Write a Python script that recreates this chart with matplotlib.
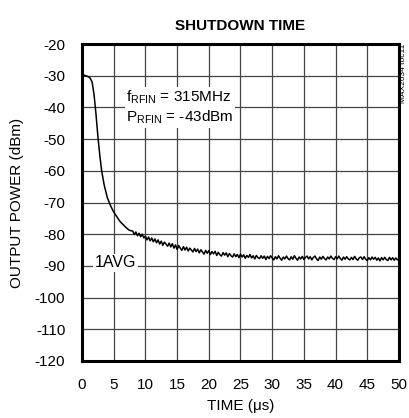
import numpy as np
import matplotlib
matplotlib.use("Agg")
import matplotlib.pyplot as plt

plt.rcParams['font.family'] = ['Liberation Sans', 'DejaVu Sans']
plt.rcParams['axes.unicode_minus'] = False

# fast drop right after shutdown
t_drop = [0.0, 0.3, 0.6, 1.0, 1.3, 1.6, 1.9, 2.2, 2.5, 2.8, 3.1, 3.5, 4.0,
          4.5, 5.0, 5.5, 6.0, 6.5, 7.0, 7.5]
p_drop = [-29.5, -29.8, -30.0, -30.3, -30.8, -32.0, -36.0, -42.0, -49.0, -55.0,
          -60.0, -64.5, -68.5, -71.0, -73.0, -74.5, -76.0, -77.0, -78.0, -78.8]

# noisy tail, sampled every 0.25us from 8us to 50us
t_tail = np.arange(8.0, 50.01, 0.25)
p_tail = [
    -79.0, -80.1, -79.3, -80.5, -79.7, -80.8, -80.0, -81.2,
    -80.6, -81.8, -80.9, -82.1, -81.2, -82.4, -81.5, -82.7,
    -81.8, -83.1, -82.2, -83.5, -82.5, -83.1, -83.8, -82.8,
    -84.0, -83.0, -84.4, -83.4, -84.8, -83.6, -84.4, -85.1,
    -83.9, -85.0, -84.1, -85.3, -84.4, -85.0, -85.6, -84.5,
    -85.5, -84.7, -85.9, -84.9, -85.6, -86.3, -85.1, -86.0,
    -85.2, -86.4, -85.5, -86.2, -85.4, -86.7, -85.7, -86.5,
    -86.9, -85.8, -86.6, -85.9, -87.1, -86.1, -86.8, -87.2,
    -86.2, -87.1, -86.4, -87.4, -86.3, -87.2, -86.5, -87.6,
    -86.7, -87.3, -86.4, -87.5, -86.8, -87.8, -86.7, -87.4,
    -87.7, -86.8, -87.6, -86.9, -88.0, -87.0, -87.7, -86.8,
    -87.5, -88.1, -87.1, -87.8, -86.8, -87.6, -88.2, -87.2,
    -87.8, -86.9, -87.7, -88.1, -87.1, -87.9, -86.8, -87.6,
    -88.2, -87.2, -87.8, -87.0, -88.0, -87.3, -86.9, -87.8,
    -87.1, -88.1, -87.3, -86.9, -87.8, -88.3, -87.2, -87.9,
    -87.0, -87.7, -88.1, -87.2, -87.8, -86.9, -87.6, -88.0,
    -87.1, -87.8, -86.9, -87.7, -88.2, -87.2, -87.9, -87.1,
    -87.8, -88.1, -87.3, -88.0, -87.0, -87.8, -88.2, -87.4,
    -87.2, -88.0, -87.1, -87.9, -88.3, -87.4, -88.1, -87.2,
    -87.9, -87.3, -88.2, -87.5, -88.4, -87.4, -88.1, -87.3,
    -88.0, -88.3, -87.3, -88.1, -87.4, -88.2, -87.5, -88.1,
    -87.7]

x_ticks = [0, 5, 10, 15, 20, 25, 30, 35, 40, 45, 50]
y_ticks = [-120, -110, -100, -90, -80, -70, -60, -50, -40, -30, -20]

t = np.concatenate([t_drop, t_tail])
p = np.concatenate([p_drop, p_tail])

fig = plt.figure(figsize=(4.09, 4.18), dpi=100)
ax = fig.add_axes([0.2005, 0.1364, 0.7750, 0.7583])

ax.plot(t, p, color='black', lw=1.1)

ax.set_xlim(0, 50)
ax.set_ylim(-120, -20)
ax.set_xticks(x_ticks)
ax.set_yticks(y_ticks)
ax.grid(True, color='#444444', lw=0.9)
ax.set_axisbelow(True)
ax.tick_params(length=0, pad=12, labelsize=11)
for s in ax.spines.values():
    s.set_linewidth(2.2)

ax.set_xlabel('TIME (μs)', fontsize=11, labelpad=5)
ax.set_ylabel('OUTPUT POWER (dBm)', fontsize=11, labelpad=8)
ax.set_title('SHUTDOWN TIME', fontsize=11, fontweight='bold', pad=10)

ax.text(7.0, -40, '$\\mathregular{f_{RFIN}}$ = 315MHz\n$\\mathregular{P_{RFIN}}$ = -43dBm',
        fontsize=11, va='center', ha='left', linespacing=1.25,
        bbox=dict(facecolor='white', edgecolor='none', pad=1))
ax.text(2.0, -89, '1AVG', fontsize=11.5, va='center', ha='left',
        bbox=dict(facecolor='white', edgecolor='none', pad=1))

fig.text(0.995, 0.895, 'MAX2634 toc11', fontsize=6, rotation=90,
         ha='right', va='top')

fig.savefig('out.png', dpi=100)
